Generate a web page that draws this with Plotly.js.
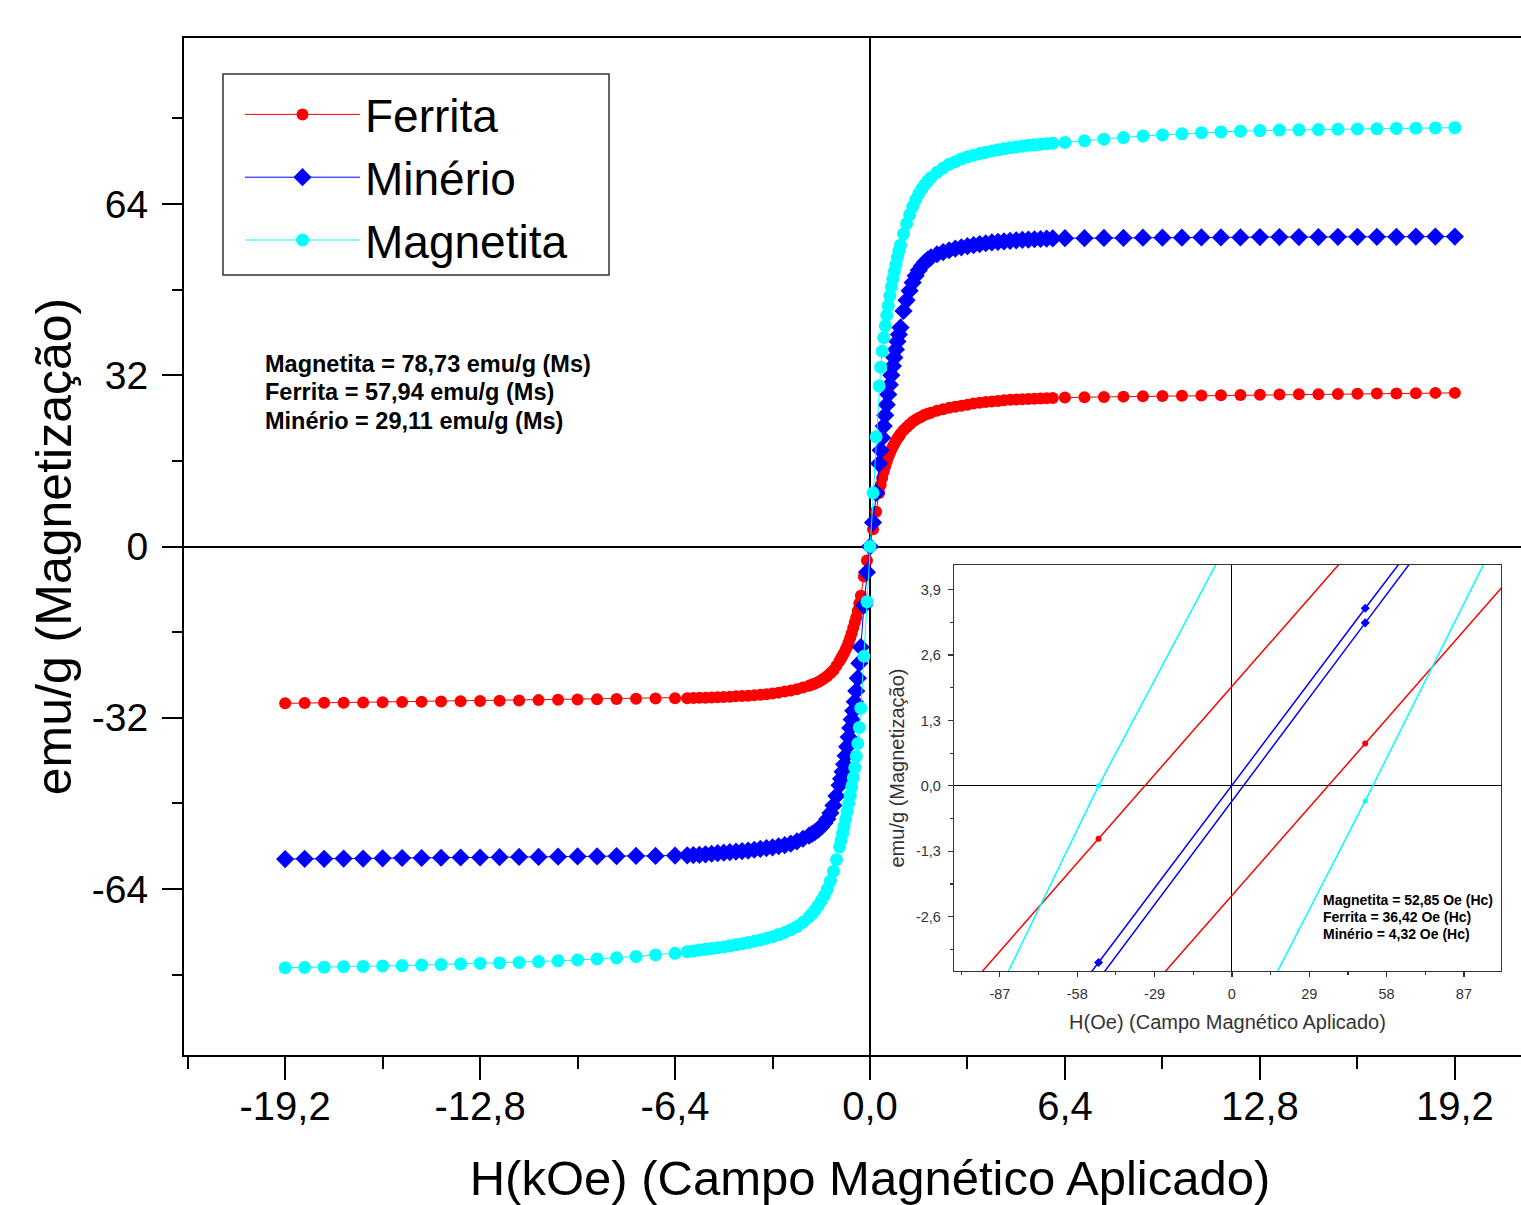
<!DOCTYPE html>
<html>
<head>
<meta charset="utf-8">
<script src="https://cdn.plot.ly/plotly-3.0.1.min.js"></script>
<style>
  html, body { margin: 0; padding: 0; overflow: hidden; background: #ffffff; }
  #chart { width: 1556px; height: 1205px; }
</style>
</head>
<body>
<div id="chart"></div>
<script>
// ---------- DATA ----------
const seriesNames = ['Ferrita', 'Minério', 'Magnetita'];

// Applied field H in kOe (main plot)
const fieldKOe = [
  -19.2,-18.56,-17.92,-17.28,-16.64,-16.0,-15.36,-14.72,-14.08,-13.44,-12.8,-12.16,-11.52,-10.88,-10.24,-9.6,-8.96,-8.32,-7.68,-7.04,-6.4,
  -6.0,-5.8,-5.6,-5.4,-5.2,-5.0,-4.8,-4.6,-4.4,-4.2,-4.0,-3.8,-3.6,-3.4,-3.2,-3.0,-2.8,-2.6,-2.4,-2.2,
  -2.0,-1.9,-1.8,-1.7,-1.6,-1.5,-1.4,-1.3,-1.2,-1.1,
  -1.0,-0.95,-0.9,-0.85,-0.8,-0.75,-0.7,-0.65,-0.6,-0.55,-0.5,-0.45,-0.4,-0.35,
  -0.3,-0.2,-0.1,0,
  0.1,0.2,0.3,
  0.35,0.4,0.45,0.5,0.55,0.6,0.65,0.7,0.75,0.8,0.85,0.9,0.95,1.0,
  1.1,1.2,1.3,1.4,1.5,1.6,1.7,1.8,1.9,2.0,
  2.2,2.4,2.6,2.8,3.0,3.2,3.4,3.6,3.8,4.0,4.2,4.4,4.6,4.8,5.0,5.2,5.4,5.6,5.8,6.0,
  6.4,7.04,7.68,8.32,8.96,9.6,10.24,10.88,11.52,12.16,12.8,13.44,14.08,14.72,15.36,16.0,16.64,17.28,17.92,18.56,19.2
];

// Magnetization (emu/g)
const ferritaM = [
  -29.3,-29.25,-29.2,-29.2,-29.15,-29.1,-29.05,-29.0,-28.95,-28.9,-28.85,-28.8,-28.75,-28.7,-28.65,-28.6,-28.55,-28.5,-28.45,-28.4,-28.35,
  -28.33,-28.3,-28.27,-28.24,-28.2,-28.15,-28.1,-28.05,-28.0,-27.95,-27.9,-27.8,-27.7,-27.6,-27.45,-27.3,-27.1,-26.9,-26.65,-26.35,
  -26.0,-25.8,-25.6,-25.3,-25.0,-24.6,-24.2,-23.7,-23.1,-22.3,
  -21.4,-20.9,-20.4,-19.9,-19.3,-18.7,-17.9,-17.1,-16.2,-15.2,-14.2,-13.2,-12.0,-10.6,
  -9.2,-5.6,-2.6,0.0,
  3.2,6.5,10.0,
  11.5,12.8,14.0,15.0,15.9,16.7,17.4,18.1,18.7,19.2,19.7,20.2,20.6,21.0,
  21.7,22.3,22.8,23.3,23.7,24.0,24.3,24.6,24.8,25.0,
  25.35,25.65,25.9,26.1,26.3,26.5,26.7,26.85,27.0,27.1,27.2,27.3,27.4,27.45,27.5,27.55,27.6,27.65,27.7,27.75,
  27.85,27.9,27.95,28.0,28.05,28.1,28.15,28.2,28.25,28.3,28.35,28.4,28.45,28.45,28.5,28.55,28.6,28.6,28.65,28.7,28.7
];
const minerioM = [
  -58.4,-58.35,-58.35,-58.3,-58.3,-58.25,-58.2,-58.2,-58.15,-58.1,-58.1,-58.05,-58.0,-58.0,-57.95,-57.9,-57.9,-57.85,-57.8,-57.8,-57.75,
  -57.7,-57.65,-57.6,-57.5,-57.4,-57.3,-57.2,-57.1,-57.0,-56.9,-56.8,-56.65,-56.5,-56.35,-56.2,-56.0,-55.8,-55.5,-55.1,-54.6,
  -54.0,-53.7,-53.3,-52.9,-52.4,-51.7,-50.9,-49.8,-48.4,-46.6,
  -44.6,-43.4,-42.1,-40.7,-39.1,-37.4,-35.6,-33.9,-32.3,-30.7,-29.0,-27.0,-24.6,-21.8,
  -18.8,-11.0,-4.8,0.0,
  4.5,10.0,15.5,
  18.0,20.3,22.5,24.5,26.5,28.4,30.2,32.0,33.7,35.3,36.8,38.3,39.6,40.9,
  44.0,46.0,47.8,49.3,50.6,51.6,52.4,53.1,53.6,54.0,
  54.6,55.0,55.35,55.65,55.9,56.1,56.3,56.5,56.65,56.8,56.9,57.0,57.1,57.2,57.3,57.35,57.4,57.45,57.5,57.55,
  57.6,57.6,57.65,57.65,57.7,57.7,57.7,57.75,57.75,57.75,57.8,57.8,57.8,57.8,57.85,57.85,57.85,57.85,57.9,57.9,57.9
];
const magnetitaM = [
  -78.7,-78.65,-78.6,-78.5,-78.45,-78.35,-78.3,-78.2,-78.1,-78.0,-77.9,-77.8,-77.7,-77.55,-77.4,-77.25,-77.05,-76.85,-76.6,-76.3,-76.0,
  -75.7,-75.55,-75.4,-75.25,-75.1,-74.95,-74.8,-74.6,-74.4,-74.2,-74.0,-73.75,-73.5,-73.2,-72.9,-72.5,-72.1,-71.6,-71.0,-70.2,
  -69.2,-68.6,-67.9,-67.1,-66.2,-65.2,-64.0,-62.5,-60.7,-58.5,
  -56.1,-54.9,-53.6,-52.3,-50.9,-49.5,-48.0,-46.5,-44.9,-43.2,-41.3,-39.2,-36.8,-33.8,
  -30.2,-20.5,-10.3,0.0,
  10.0,20.5,30.0,
  33.5,36.5,39.0,41.2,43.2,45.0,46.8,48.5,50.0,51.4,52.7,54.0,55.2,56.3,
  58.4,60.3,62.0,63.5,64.8,65.9,66.8,67.6,68.3,68.9,
  69.9,70.7,71.4,71.9,72.4,72.8,73.1,73.4,73.65,73.9,74.1,74.3,74.5,74.65,74.8,74.95,75.05,75.15,75.25,75.35,
  75.5,75.8,76.1,76.4,76.7,76.9,77.1,77.3,77.45,77.6,77.7,77.8,77.85,77.9,77.95,78.0,78.05,78.1,78.15,78.2,78.25
];

// Inset: field in Oe, descending and ascending branches of each loop
const insetFieldOe = [-150, -50, 50, 150];
const ferritaDesc   = [-7.1, -1.05, 5.0, 11.1];
const ferritaAsc    = [-11.3, -5.2, 0.84, 6.9];
const minerioDesc   = [-10.5, -3.51, 3.53, 10.5];
const minerioAsc    = [-10.6, -3.85, 3.24, 10.3];
const magnetitaDesc = [-10.9, 0.0, 10.0, 20.0];
const magnetitaAsc  = [-20.9, -10.6, -0.3, 10.3];

// Tick labels
const mainXTicks  = [-19.2, -12.8, -6.4, 0, 6.4, 12.8, 19.2];
const mainXLabels = ['-19,2', '-12,8', '-6,4', '0,0', '6,4', '12,8', '19,2'];
const mainYTicks  = [-64, -32, 0, 32, 64];
const mainYLabels = ['-64', '-32', '0', '32', '64'];
const insetXTicks  = [-87, -58, -29, 0, 29, 58, 87];
const insetXLabels = ['-87', '-58', '-29', '0', '29', '58', '87'];
const insetYTicks  = [-2.6, -1.3, 0, 1.3, 2.6, 3.9];
const insetYLabels = ['-2,6', '-1,3', '0,0', '1,3', '2,6', '3,9'];

// Texts
const msLines = ['Magnetita = 78,73 emu/g (Ms)', 'Ferrita = 57,94 emu/g (Ms)', 'Minério = 29,11 emu/g (Ms)'];
const hcLines = ['Magnetita = 52,85 Oe (Hc)', 'Ferrita = 36,42 Oe (Hc)', 'Minério = 4,32 Oe (Hc)'];
const mainXTitle = 'H(kOe) (Campo Magnético Aplicado)';
const mainYTitle = 'emu/g (Magnetização)';
const insetXTitle = 'H(Oe) (Campo Magnético Aplicado)';
const insetYTitle = 'emu/g (Magnetização)';

// ---------- STYLE ----------
const FONT = 'Liberation Sans, Arial, Helvetica, sans-serif';
const colors = { Ferrita: '#ff0000', 'Minério': '#0000ff', Magnetita: '#00ffff' };

const W = 1556, H = 1205;
const M = { l: 184, r: 0, t: 38, b: 150 };
const plotW = W - M.l - M.r, plotH = H - M.t - M.b;
const px2x = p => (p - M.l) / plotW;
const px2y = p => (H - M.b - p) / plotH;

const mainSeries = [
  { name: 'Ferrita', y: ferritaM, symbol: 'circle', size: 12 },
  { name: 'Minério', y: minerioM, symbol: 'diamond', size: 14 },
  { name: 'Magnetita', y: magnetitaM, symbol: 'circle', size: 13 }
];

const traces = mainSeries.map(s => ({
  type: 'scatter', mode: 'lines+markers', name: s.name,
  x: fieldKOe, y: s.y, xaxis: 'x', yaxis: 'y',
  line: { color: colors[s.name], width: 1 },
  marker: { color: colors[s.name], symbol: s.symbol, size: s.size, line: { width: 0 } }
}));

const insetSeries = [
  { name: 'Ferrita', y: ferritaDesc, symbol: 'circle', size: 6 },
  { name: 'Ferrita', y: ferritaAsc, symbol: 'circle', size: 6 },
  { name: 'Minério', y: minerioDesc, symbol: 'diamond', size: 7 },
  { name: 'Minério', y: minerioAsc, symbol: 'diamond', size: 7 },
  { name: 'Magnetita', y: magnetitaDesc, symbol: 'circle', size: 5 },
  { name: 'Magnetita', y: magnetitaAsc, symbol: 'circle', size: 5 }
];
insetSeries.forEach(s => traces.push({
  type: 'scatter', mode: 'lines+markers', name: s.name, showlegend: false,
  x: insetFieldOe, y: s.y, xaxis: 'x2', yaxis: 'y2',
  line: { color: colors[s.name], width: 1.5 },
  marker: { color: colors[s.name], symbol: s.symbol, size: s.size, line: { width: 0 } }
}));

const annotations = [];
const msY = [364, 392, 421];
msLines.forEach((t, i) => annotations.push({
  xref: 'paper', yref: 'paper', x: px2x(263), y: px2y(msY[i]),
  xanchor: 'left', yanchor: 'middle', showarrow: false,
  text: '<b>' + t + '</b>', font: { family: FONT, size: 23.5, color: '#000' }
}));
const hcY = [900, 917, 934];
hcLines.forEach((t, i) => annotations.push({
  xref: 'paper', yref: 'paper', x: px2x(1321), y: px2y(hcY[i]),
  xanchor: 'left', yanchor: 'middle', showarrow: false,
  text: '<b>' + t + '</b>', font: { family: FONT, size: 14, color: '#000' }
}));

const layout = {
  width: W, height: H,
  margin: M,
  paper_bgcolor: '#ffffff', plot_bgcolor: '#ffffff',
  font: { family: FONT, color: '#000' },
  showlegend: true,
  legend: {
    x: px2x(240), y: px2y(78), xanchor: 'left', yanchor: 'top',
    bgcolor: 'rgba(255,255,255,0)', borderwidth: 0,
    font: { family: FONT, size: 46, color: '#000' },
    itemwidth: 115, tracegroupgap: 0
  },
  shapes: [{
    type: 'rect', xref: 'paper', yref: 'paper', layer: 'above',
    x0: px2x(223), x1: px2x(609), y0: px2y(275), y1: px2y(74),
    line: { color: '#333333', width: 1.5 }, fillcolor: 'rgba(0,0,0,0)'
  }],
  xaxis: {
    domain: [0, 1], range: [-22.52, 22.52], anchor: 'y',
    tickmode: 'array', tickvals: mainXTicks, ticktext: mainXLabels,
    ticks: 'outside', ticklen: 23, tickwidth: 2, tickcolor: '#000',
    minor: { tickmode: 'linear', tick0: 0, dtick: 3.2, ticks: 'outside', ticklen: 12, tickwidth: 2, tickcolor: '#000' },
    showline: true, linewidth: 2, linecolor: '#000', mirror: true,
    showgrid: false, zeroline: true, zerolinecolor: '#000', zerolinewidth: 2,
    tickfont: { family: FONT, size: 40, color: '#000' }, ticklabelstandoff: -8,
    title: { text: mainXTitle, font: { family: FONT, size: 49, color: '#000' }, standoff: 50 }
  },
  yaxis: {
    domain: [0, 1], range: [-95, 95], anchor: 'x',
    tickmode: 'array', tickvals: mainYTicks, ticktext: mainYLabels,
    ticks: 'outside', ticklen: 20, tickwidth: 2, tickcolor: '#000',
    minor: { tickmode: 'linear', tick0: 0, dtick: 16, ticks: 'outside', ticklen: 10, tickwidth: 2, tickcolor: '#000' },
    showline: true, linewidth: 2, linecolor: '#000', mirror: false,
    showgrid: false, zeroline: true, zerolinecolor: '#000', zerolinewidth: 2,
    tickfont: { family: FONT, size: 39, color: '#000' }, ticklabelstandoff: 6,
    title: { text: mainYTitle, font: { family: FONT, size: 50, color: '#000' }, standoff: 4 }
  },
  xaxis2: {
    domain: [px2x(954), px2x(1501)], range: [-104.2, 100.9], anchor: 'y2',
    tickmode: 'array', tickvals: insetXTicks, ticktext: insetXLabels,
    ticks: 'outside', ticklen: 5, tickwidth: 1.2, tickcolor: '#333',
    minor: { tickmode: 'linear', tick0: 0, dtick: 14.5, ticks: 'outside', ticklen: 3, tickwidth: 1.2, tickcolor: '#333' },
    showline: true, linewidth: 1.2, linecolor: '#333', mirror: true,
    showgrid: false, zeroline: true, zerolinecolor: '#000', zerolinewidth: 1,
    tickfont: { family: FONT, size: 14.5, color: '#333' }, ticklabelstandoff: 4,
    title: { text: insetXTitle, font: { family: FONT, size: 20, color: '#333' }, standoff: 14 }
  },
  yaxis2: {
    domain: [px2y(971), px2y(565)], range: [-3.68, 4.39], anchor: 'x2',
    tickmode: 'array', tickvals: insetYTicks, ticktext: insetYLabels,
    ticks: 'outside', ticklen: 5, tickwidth: 1.2, tickcolor: '#333',
    minor: { tickmode: 'linear', tick0: 0, dtick: 0.65, ticks: 'outside', ticklen: 3, tickwidth: 1.2, tickcolor: '#333' },
    showline: true, linewidth: 1.2, linecolor: '#333', mirror: true,
    showgrid: false, zeroline: true, zerolinecolor: '#000', zerolinewidth: 1,
    tickfont: { family: FONT, size: 14.5, color: '#333' }, ticklabelstandoff: 4,
    title: { text: insetYTitle, font: { family: FONT, size: 20, color: '#333' }, standoff: 6 }
  },
  annotations: annotations
};

Plotly.newPlot('chart', traces, layout, { displayModeBar: false, staticPlot: true });
</script>
</body>
</html>
